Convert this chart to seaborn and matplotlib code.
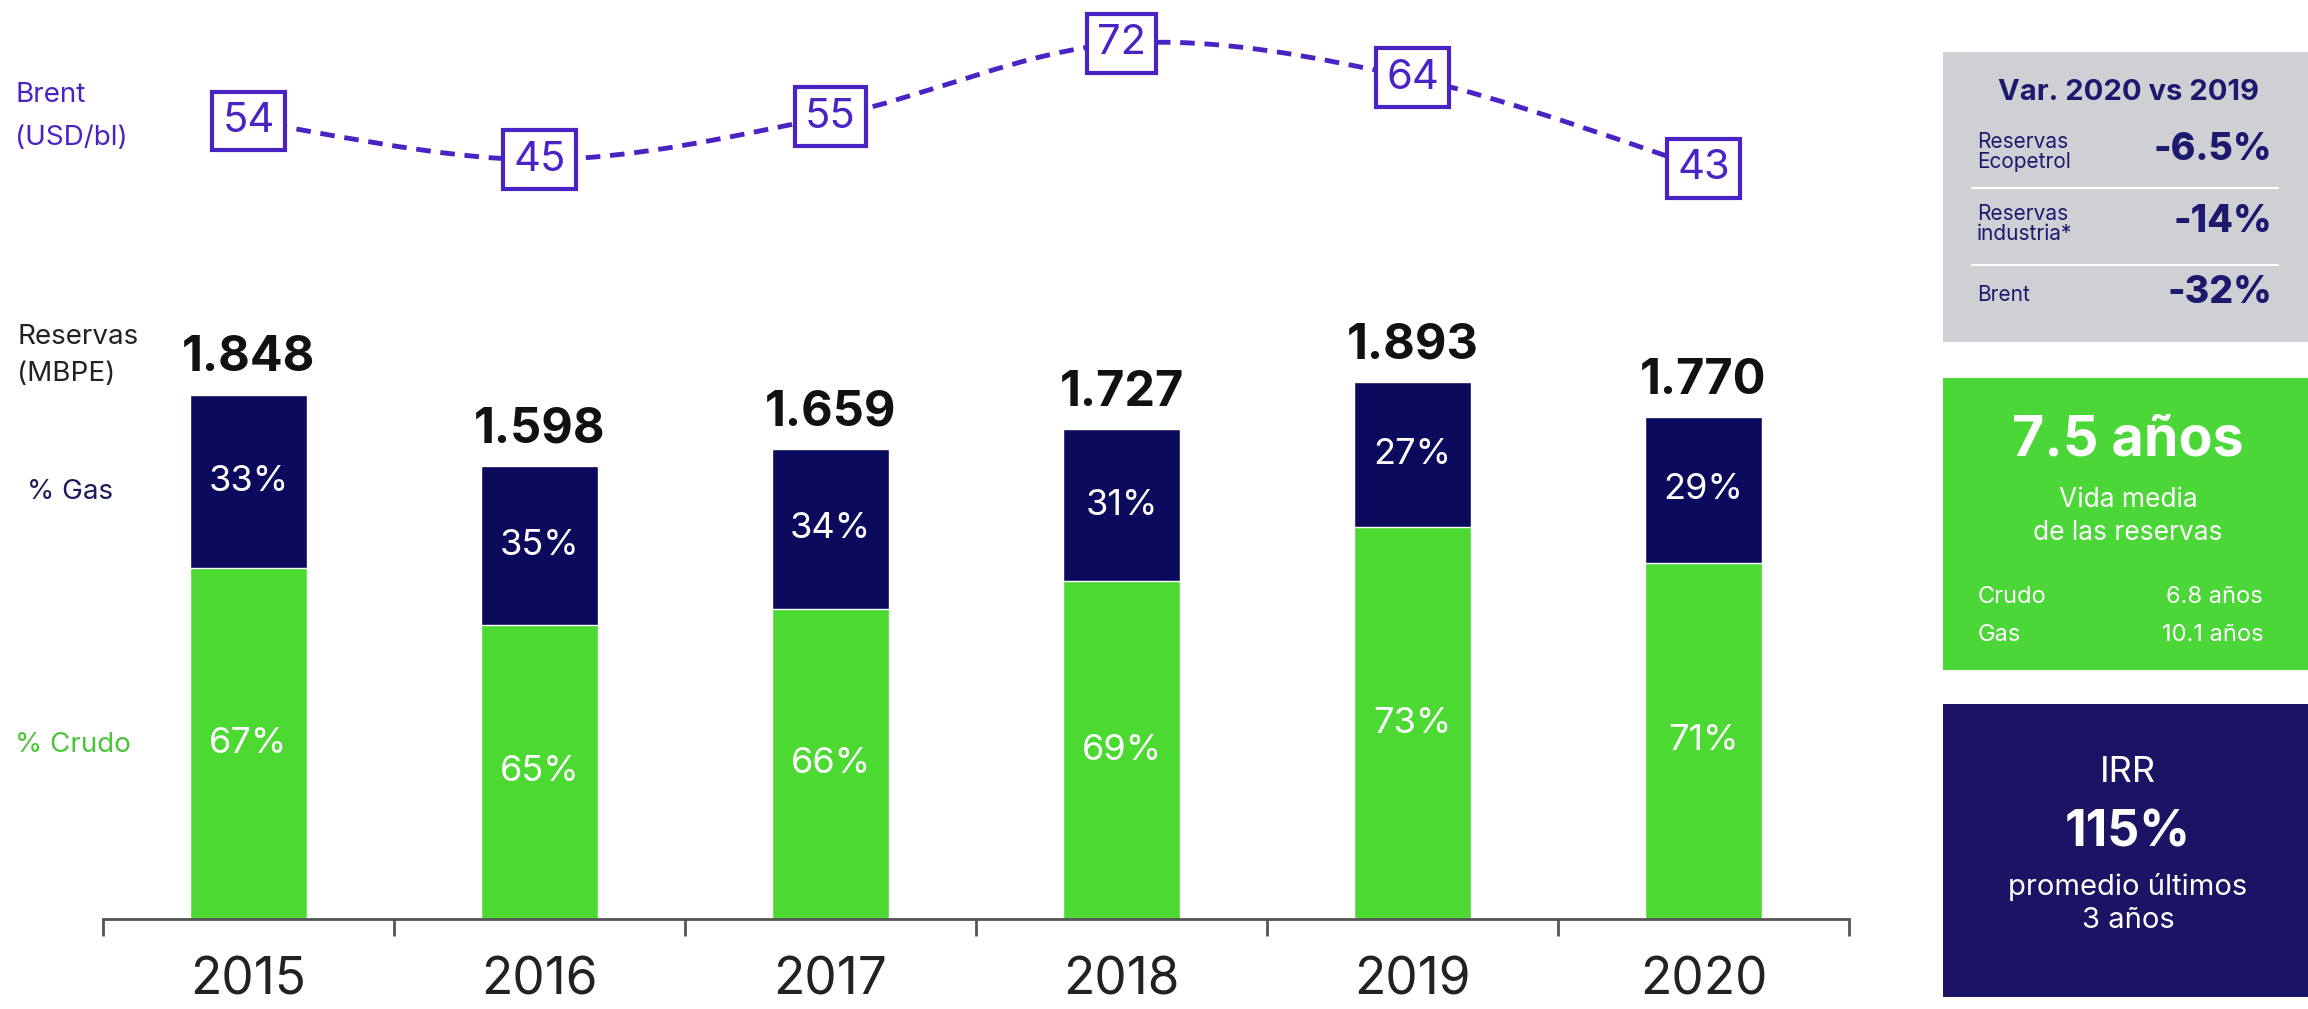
import numpy as np
import pandas as pd
import matplotlib
matplotlib.use("Agg")
import matplotlib.pyplot as plt
from matplotlib.path import Path
from matplotlib.patches import PathPatch
import seaborn as sns

# data
years = ["2015", "2016", "2017", "2018", "2019", "2020"]
reservas = [1848, 1598, 1659, 1727, 1893, 1770]
pct_gas = [33, 35, 34, 31, 27, 29]
pct_crudo = [67, 65, 66, 69, 73, 71]
brent = [54, 45, 55, 72, 64, 43]

NAVY = "#0b0a5c"
GREEN = "#4bd932"
PURPLE = "#4a23c4"
PANEL_NAVY = "#1b1464"
PANEL_GREEN = "#4cd738"
PANEL_GRAY = "#cfd0d3"

sns.set_theme(style="white")
plt.rcParams["font.family"] = ["Inter", "DejaVu Sans"]

W, H = 2308, 1009
fig = plt.figure(figsize=(W / 100, H / 100), dpi=100)


def box(x0, y0, x1, y1):
    # pixel box (top-left origin) -> figure rect
    return [x0 / W, 1 - y1 / H, (x1 - x0) / W, (y1 - y0) / H]


def ftext(x, y, s, **kw):
    fig.text(x / W, 1 - y / H, s, **kw)


df = pd.DataFrame({"year": years, "total": reservas, "gas": pct_gas, "crudo": pct_crudo})
df["crudo_val"] = df["total"] * df["crudo"] / 100

# ---- stacked bars
ax = fig.add_axes(box(103, 200, 1849, 919))
sns.barplot(data=df, x="year", y="total", color=NAVY, width=0.4, saturation=1, ax=ax)
sns.barplot(data=df, x="year", y="crudo_val", color=GREEN, width=0.4, saturation=1, ax=ax)
ax.set_xlim(-0.5, 5.5)
ax.set_ylim(0, 2536)
ax.set_xlabel("")
ax.set_ylabel("")
ax.set_yticks([])
for s in ["top", "right", "left"]:
    ax.spines[s].set_visible(False)
ax.spines["bottom"].set_color("#555555")
ax.spines["bottom"].set_linewidth(2)
ax.set_xticks(range(len(years)))
ax.set_xticklabels(years, fontsize=37, color="#222222")
ax.tick_params(axis="x", which="major", length=0, pad=27)
ax.set_xticks(np.arange(-0.5, 6, 1), minor=True)
ax.tick_params(axis="x", which="minor", length=12, width=2, color="#555555", bottom=True)

for i, row in df.iterrows():
    ax.annotate(f"{row['total']:,}".replace(",", "."), (i, row["total"]),
                xytext=(0, 17), textcoords="offset points", ha="center", va="baseline",
                fontsize=35, fontweight="bold", color="#111111")
    gas_val = row["total"] - row["crudo_val"]
    ax.text(i, row["crudo_val"] + gas_val / 2, f"{row['gas']}%", ha="center", va="center",
            fontsize=26, color="white")
    ax.text(i, row["crudo_val"] / 2, f"{row['crudo']}%", ha="center", va="center",
            fontsize=26, color="white")

# ---- brent line
axb = fig.add_axes(box(103, 0, 1849, 230))
axb.set_xlim(-0.5, 5.5)
axb.set_ylim(28.65, 82.1)
axb.axis("off")
pts = np.column_stack([np.arange(len(brent)), brent]).astype(float)
ext = np.vstack([pts[0], pts, pts[-1]])
verts = [tuple(pts[0])]
codes = [Path.MOVETO]
for k in range(1, len(ext) - 2):
    p0, p1, p2, p3 = ext[k - 1], ext[k], ext[k + 1], ext[k + 2]
    verts += [tuple(p1 + (p2 - p0) / 6), tuple(p2 - (p3 - p1) / 6), tuple(p2)]
    codes += [Path.CURVE4] * 3
axb.add_patch(PathPatch(Path(verts, codes), fill=False, ec=PURPLE, lw=3.5,
                        linestyle=(0, (3, 2)), zorder=1))
for i, v in enumerate(brent):
    axb.text(i, v, str(v), ha="center", va="center", fontsize=30, color=PURPLE, zorder=3,
             bbox=dict(boxstyle="square,pad=0.25", fc="white", ec=PURPLE, lw=3))

# ---- left labels
ftext(15, 95, "Brent", fontsize=20, color=PURPLE, va="center")
ftext(15, 138, "(USD/bl)", fontsize=20, color=PURPLE, va="center")
ftext(17, 337, "Reservas", fontsize=20, color="#222222", va="center")
ftext(17, 374, "(MBPE)", fontsize=20, color="#222222", va="center")
ftext(27, 492, "% Gas", fontsize=20, color="#1b1a5a", va="center")
ftext(15, 745, "% Crudo", fontsize=20, color="#4cc43a", va="center")

# ---- right panels
for (x0, y0, x1, y1), c in [((1943, 52, 2308, 342), PANEL_GRAY),
                            ((1943, 378, 2308, 670), PANEL_GREEN),
                            ((1943, 704, 2308, 997), PANEL_NAVY)]:
    pa = fig.add_axes(box(x0, y0, x1, y1))
    pa.set_facecolor(c)
    pa.set_xticks([])
    pa.set_yticks([])
    for s in pa.spines.values():
        s.set_visible(False)

TXT_NAVY = "#1c1a6e"
ftext(2128, 92, "Var. 2020 vs 2019", fontsize=21, fontweight="bold", color=TXT_NAVY,
      ha="center", va="center")
rows = [("Reservas\nEcopetrol", "-6.5%", 152), ("Reservas\nindustria*", "-14%", 224),
        ("Brent", "-32%", 295)]
for lab, val, y in rows:
    ftext(1977, y, lab, fontsize=15, color=TXT_NAVY, va="center", linespacing=0.95)
    ftext(2272, y - 2, val, fontsize=27, fontweight="heavy", color=TXT_NAVY,
          ha="right", va="center")
for y in [188, 265]:
    fig.add_artist(plt.Line2D([1972 / W, 2278 / W], [1 - y / H, 1 - y / H],
                              color="white", lw=1.5))

ftext(2128, 440, "7.5 años", fontsize=40, fontweight="bold", color="white",
      ha="center", va="center")
ftext(2128, 500, "Vida media", fontsize=19, color="white", ha="center", va="center")
ftext(2128, 533, "de las reservas", fontsize=19, color="white", ha="center", va="center")
ftext(1978, 597, "Crudo", fontsize=17, color="white", va="center")
ftext(1978, 635, "Gas", fontsize=17, color="white", va="center")
ftext(2263, 597, "6.8 años", fontsize=17, color="white", ha="right", va="center")
ftext(2263, 635, "10.1 años", fontsize=17, color="white", ha="right", va="center")

ftext(2128, 773, "IRR", fontsize=26, color="white", ha="center", va="center")
ftext(2128, 833, "115%", fontsize=36, fontweight="bold", color="white",
      ha="center", va="center")
ftext(2128, 887, "promedio últimos", fontsize=21, color="white", ha="center", va="center")
ftext(2128, 920, "3 años", fontsize=21, color="white", ha="center", va="center")

fig.savefig("out.png", dpi=100, facecolor="white")
